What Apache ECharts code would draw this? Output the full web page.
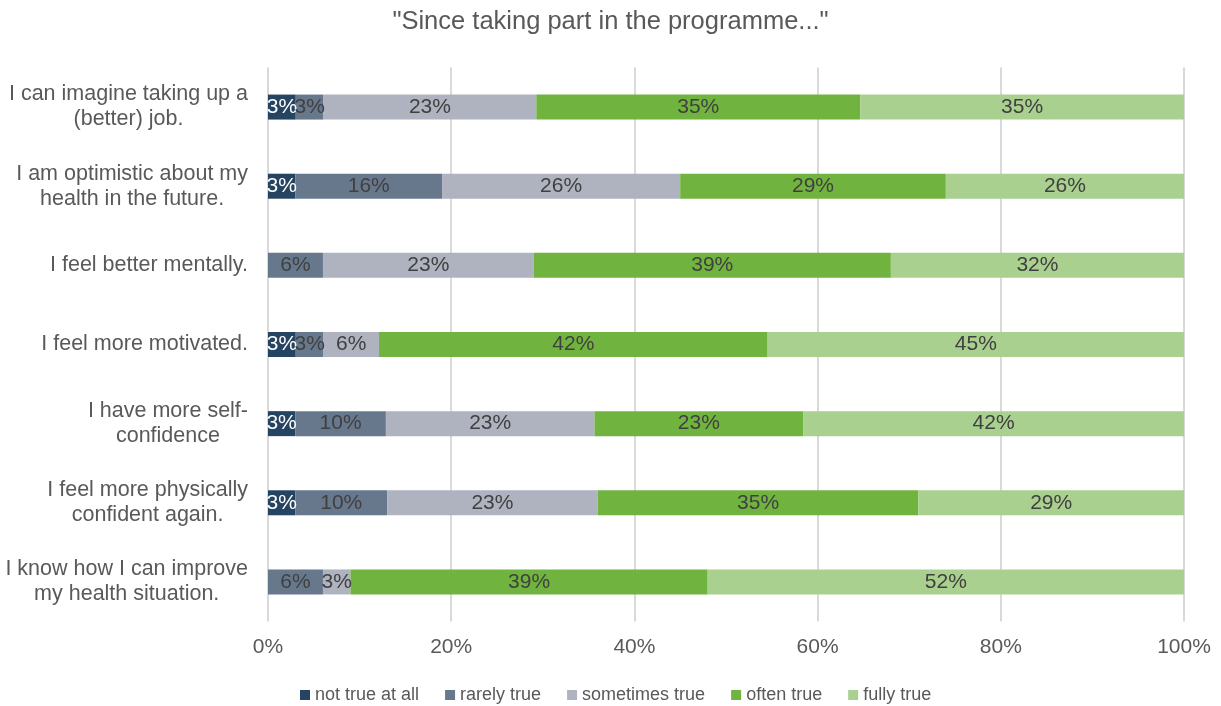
<!DOCTYPE html>
<html>
<head>
<meta charset="utf-8">
<script src="https://cdn.jsdelivr.net/npm/echarts@6/dist/echarts.min.js"></script>
<style>
  html, body { margin: 0; padding: 0; background: #fff; }
  #chart { width: 1221px; height: 706px; }
</style>
</head>
<body>
<div id="chart"></div>
<script>
// Survey statements (top to bottom)
const categories = [
  'I can imagine taking up a\n(better) job.',
  'I am optimistic about my\nhealth in the future.',
  'I feel better mentally.',
  'I feel more motivated.',
  'I have more self-\nconfidence',
  'I feel more physically\nconfident again.',
  'I know how I can improve\nmy health situation.'
];

// Answer shares per statement, in percent
const notTrueAtAll  = [3, 3, 0, 3, 3, 3, 0];
const rarelyTrue    = [3, 16, 6, 3, 10, 10, 6];
const sometimesTrue = [23, 26, 23, 6, 23, 23, 3];
const oftenTrue     = [35, 29, 39, 42, 23, 35, 39];
const fullyTrue     = [35, 26, 32, 45, 42, 29, 52];

const xTicks = [0, 20, 40, 60, 80, 100];

const seriesDefs = [
  { name: 'not true at all', values: notTrueAtAll,  color: '#254461', text: '#ffffff' },
  { name: 'rarely true',     values: rarelyTrue,    color: '#67788d', text: '#404040' },
  { name: 'sometimes true',  values: sometimesTrue, color: '#afb3c0', text: '#404040' },
  { name: 'often true',      values: oftenTrue,     color: '#70b43f', text: '#404040' },
  { name: 'fully true',      values: fullyTrue,     color: '#a9d08e', text: '#404040' }
];

// Row totals, so each bar is stacked to a full 100 %
const rowTotals = categories.map((_, i) =>
  seriesDefs.reduce((s, d) => s + d.values[i], 0));

const FONT = '"Liberation Sans", Arial, sans-serif';

const chart = echarts.init(document.getElementById('chart'), null, { renderer: 'canvas' });

chart.setOption({
  animation: false,
  textStyle: { fontFamily: FONT },
  title: {
    text: '"Since taking part in the programme..."',
    left: 'center',
    top: 4,
    textStyle: { fontFamily: FONT, fontSize: 25.5, fontWeight: 'normal', color: '#595959' }
  },
  legend: {
    bottom: -3,
    left: 295,
    itemWidth: 10,
    itemHeight: 10,
    itemGap: 26,
    icon: 'rect',
    textStyle: { fontFamily: FONT, fontSize: 18, color: '#595959' },
    data: seriesDefs.map(d => d.name)
  },
  grid: { left: 268, right: 37, top: 67.5, height: 554, containLabel: false },
  xAxis: {
    type: 'value',
    min: 0,
    max: 100,
    interval: 20,
    axisLine: { show: false },
    axisTick: { show: false },
    splitLine: { show: true, lineStyle: { color: '#d9d9d9', width: 2 } },
    axisLabel: {
      fontFamily: FONT,
      fontSize: 21,
      color: '#595959',
      margin: 15,
      formatter: v => (xTicks.includes(v) ? v + '%' : '')
    }
  },
  yAxis: {
    type: 'category',
    inverse: true,
    data: categories,
    axisLine: { show: false },
    axisTick: { show: false },
    axisLabel: {
      fontFamily: FONT,
      fontSize: 21.5,
      color: '#595959',
      margin: 20,
      lineHeight: 25,
      align: 'right',
      formatter: v => v.split('\n').map(l => '{c|' + l + '}').join('\n'),
      rich: { c: { align: 'center', fontFamily: FONT, fontSize: 21.5, color: '#595959', lineHeight: 25 } }
    }
  },
  series: seriesDefs.map(d => ({
    name: d.name,
    type: 'bar',
    stack: 'total',
    barWidth: 25,
    itemStyle: { color: d.color },
    label: {
      show: true,
      position: 'inside',
      fontFamily: FONT,
      fontSize: 21,
      color: d.text,
      formatter: p => (d.values[p.dataIndex] > 0 ? d.values[p.dataIndex] + '%' : '')
    },
    data: d.values.map((v, i) => v / rowTotals[i] * 100)
  }))
});
</script>
</body>
</html>
